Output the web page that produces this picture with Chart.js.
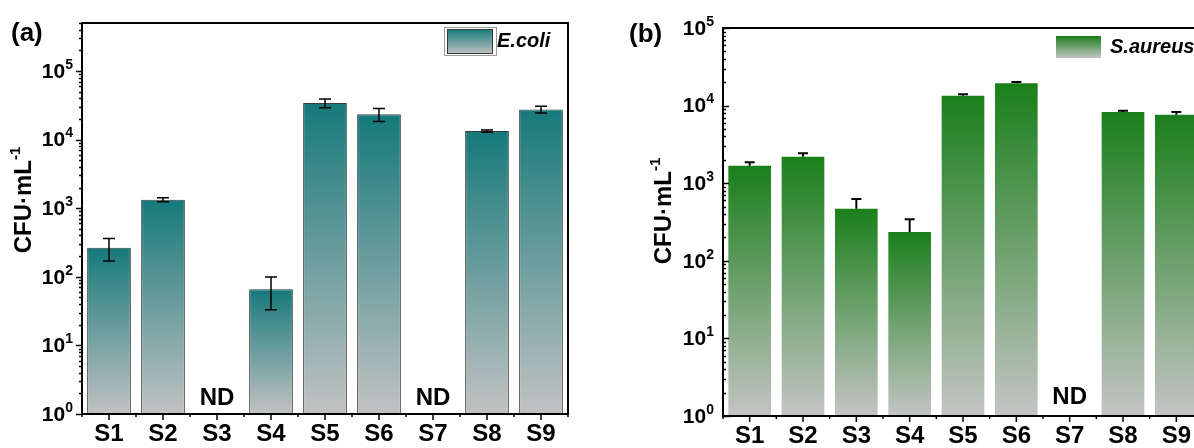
<!DOCTYPE html>
<html><head><meta charset="utf-8">
<script src="https://cdn.jsdelivr.net/npm/chart.js@4"></script>
<style>
html,body{margin:0;padding:0;background:#fff;overflow:hidden;width:1194px;height:448px;}
canvas{position:absolute;top:0;}
#ca{left:0;}
#cb{left:597px;}
</style></head><body>
<canvas id="ca" width="597" height="448"></canvas>
<canvas id="cb" width="620" height="448"></canvas>
<script>
// ---- data ----
const categories = ['S1','S2','S3','S4','S5','S6','S7','S8','S9'];
const ecoliValues = [265, 1330, null, 66, 34000, 23300, null, 13300, 27500];
const ecoliErrors = [95, 85, null, 33, 5000, 5000, null, 500, 3200];
const saureusValues = [1680, 2200, 470, 235, 13400, 19400, null, 8270, 7640];
const saureusErrors = [180, 230, 156, 108, 600, 780, null, 330, 630];
const yExponents = [0, 1, 2, 3, 4, 5];
const ndLabel = 'ND';
const yTitleMain = 'CFU·mL';
const yTitleSup = '-1';

const FONT = "'Liberation Sans', Arial, sans-serif";

function makeGradientColor(top, bottom) {
  return function(c) {
    const chart = c.chart;
    const area = chart.chartArea;
    if (!area || c.raw == null) return top;
    const y = chart.scales.y;
    const pt = y.getPixelForValue(c.raw);
    const g = chart.ctx.createLinearGradient(0, pt, 0, area.bottom);
    g.addColorStop(0, top);
    g.addColorStop(1, bottom);
    return g;
  };
}

function decorPlugin(cfg) {
  return {
    id: 'decor',
    afterDraw(chart) {
      const ctx = chart.ctx, a = chart.chartArea, x = chart.scales.x, y = chart.scales.y;
      const vals = chart.data.datasets[0].data;
      ctx.save();
      // error bars
      ctx.strokeStyle = '#000';
      ctx.lineWidth = cfg.errWidth;
      vals.forEach((v, i) => {
        const e = cfg.errors[i];
        if (v == null || e == null) return;
        const px = x.getPixelForValue(i);
        const top = y.getPixelForValue(v + e);
        const bot = cfg.twoSided ? y.getPixelForValue(Math.max(v - e, 1)) : y.getPixelForValue(v);
        ctx.beginPath();
        ctx.moveTo(px, top); ctx.lineTo(px, bot);
        ctx.moveTo(px - cfg.cap, top); ctx.lineTo(px + cfg.cap, top);
        if (cfg.twoSided) { ctx.moveTo(px - cfg.cap, bot); ctx.lineTo(px + cfg.cap, bot); }
        ctx.stroke();
      });
      // ND labels
      ctx.fillStyle = '#000';
      ctx.font = 'bold 24px ' + FONT;
      ctx.textAlign = 'center';
      ctx.textBaseline = 'middle';
      vals.forEach((v, i) => {
        if (v == null) ctx.fillText(ndLabel, x.getPixelForValue(i), cfg.ndY);
      });
      // frame
      ctx.lineWidth = 2;
      ctx.strokeStyle = '#000';
      ctx.strokeRect(a.left, a.top, a.right - a.left, a.bottom - a.top);
      // y ticks
      ctx.lineWidth = 1.5;
      const dir = cfg.yTickIn ? 1 : -1;
      y.ticks.forEach(t => {
        const lg = Math.log10(t.value);
        const isMaj = Math.abs(lg - Math.round(lg)) < 1e-9;
        const sig = t.value / Math.pow(10, Math.floor(lg + 1e-9));
        if (!isMaj && Math.abs(sig - Math.round(sig)) > 1e-6) return;
        const py = Math.round(y.getPixelForValue(t.value)) + 0.5;
        const len = isMaj ? 6 : 3;
        ctx.beginPath();
        ctx.moveTo(a.left, py); ctx.lineTo(a.left + dir * len, py);
        ctx.stroke();
      });
      // x ticks
      const step = x.getPixelForValue(1) - x.getPixelForValue(0);
      categories.forEach((c, i) => {
        const px = x.getPixelForValue(i);
        ctx.beginPath();
        ctx.moveTo(px, a.bottom); ctx.lineTo(px, a.bottom + 6);
        ctx.moveTo(px + step / 2, a.bottom); ctx.lineTo(px + step / 2, a.bottom + 3);
        if (i === 0) { ctx.moveTo(px - step / 2, a.bottom); ctx.lineTo(px - step / 2, a.bottom + 3); }
        ctx.stroke();
      });
      // y tick labels 10^n
      ctx.textAlign = 'left';
      ctx.textBaseline = 'middle';
      yExponents.forEach(e => {
        const v = Math.pow(10, e);
        if (v < y.min - 1e-9 || v > y.max + 1e-9) return;
        const py = y.getPixelForValue(v);
        ctx.font = 'bold 14px ' + FONT;
        const ws = ctx.measureText(String(e)).width;
        ctx.font = 'bold 21px ' + FONT;
        const wb = ctx.measureText('10').width;
        const right = a.left - cfg.labelGap;
        ctx.fillText('10', right - ws - wb, py + 1);
        ctx.font = 'bold 14px ' + FONT;
        ctx.fillText(String(e), right - ws, py - 6);
      });
      // y title
      ctx.save();
      ctx.translate(cfg.titleX, cfg.titleY);
      ctx.rotate(-Math.PI / 2);
      ctx.font = 'bold 24px ' + FONT;
      const w1 = ctx.measureText(yTitleMain).width;
      ctx.font = 'bold 15px ' + FONT;
      const w2 = ctx.measureText(yTitleSup).width;
      const st = -(w1 + w2) / 2;
      ctx.font = 'bold 24px ' + FONT;
      ctx.fillText(yTitleMain, st, 0);
      ctx.font = 'bold 15px ' + FONT;
      ctx.fillText(yTitleSup, st + w1, -8);
      ctx.restore();
      // panel label
      ctx.font = 'bold 26px ' + FONT;
      ctx.fillText(cfg.panel, cfg.panelX, cfg.panelY);
      // legend
      const L = cfg.legend;
      if (L.frame) {
        ctx.lineWidth = 1;
        ctx.strokeStyle = '#9a9a9a';
        ctx.strokeRect(L.frame[0] + 0.5, L.frame[1] + 0.5, L.frame[2], L.frame[3]);
      }
      const g = ctx.createLinearGradient(0, L.box[1], 0, L.box[1] + L.box[3]);
      g.addColorStop(0, cfg.topColor);
      g.addColorStop(1, cfg.bottomColor);
      ctx.fillStyle = g;
      ctx.fillRect(L.box[0], L.box[1], L.box[2], L.box[3]);
      if (L.border) {
        ctx.strokeStyle = '#3a3a3a';
        ctx.lineWidth = 1;
        ctx.strokeRect(L.box[0] + 0.5, L.box[1] + 0.5, L.box[2] - 1, L.box[3] - 1);
      }
      ctx.fillStyle = '#000';
      ctx.font = 'italic bold 20px ' + FONT;
      ctx.textBaseline = 'middle';
      ctx.fillText(L.text, L.textX, L.textY);
      ctx.restore();
    }
  };
}

function makeChart(id, values, cfg) {
  return new Chart(document.getElementById(id), {
    type: 'bar',
    data: {
      labels: categories,
      datasets: [{
        label: cfg.legend.text,
        data: values,
        backgroundColor: makeGradientColor(cfg.topColor, cfg.bottomColor),
        borderColor: cfg.barBorder || 'rgba(0,0,0,0)',
        borderWidth: cfg.barBorder ? 1 : 0,
        borderSkipped: 'start',
        barPercentage: cfg.barPct,
        categoryPercentage: 1
      }]
    },
    options: {
      responsive: false,
      animation: false,
      layout: { padding: cfg.padding },
      plugins: { legend: { display: false }, tooltip: { enabled: false } },
      scales: {
        x: {
          grid: { display: false, drawTicks: false },
          border: { display: false },
          ticks: { color: '#000', font: { family: FONT, size: 24, weight: 'bold' }, padding: cfg.xPad, autoSkip: false, maxRotation: 0 },
          afterFit(s) { s.height = cfg.xHeight; }
        },
        y: {
          type: 'logarithmic',
          min: 1,
          max: cfg.yMax,
          grid: { display: false, drawTicks: false },
          border: { display: false },
          ticks: { display: false, autoSkip: false },
          afterFit(s) { s.width = cfg.yWidth; }
        }
      }
    },
    plugins: [decorPlugin(cfg)]
  });
}

makeChart('ca', ecoliValues, {
  errors: ecoliErrors, twoSided: true, errWidth: 1.5, cap: 6,
  topColor: '#16797a', bottomColor: '#c2c2c2', barBorder: '#3c3c3c', barPct: 0.81,
  padding: { left: 0, top: 23, right: 29, bottom: 0 },
  yWidth: 82, xHeight: 34, xPad: 6, yMax: 500000,
  yTickIn: false, labelGap: 9, ndY: 398,
  titleX: 24, titleY: 200,
  panel: '(a)', panelX: 11, panelY: 34,
  legend: { frame: [444, 27, 52, 28], box: [447, 29, 46, 25], border: true, text: 'E.coli', textX: 497, textY: 41 }
});

makeChart('cb', saureusValues, {
  errors: saureusErrors, twoSided: false, errWidth: 2, cap: 5,
  topColor: '#1a7f1a', bottomColor: '#c4c4c4', barBorder: null, barPct: 0.8,
  padding: { left: 0, top: 28, right: 14, bottom: 0 },
  yWidth: 126, xHeight: 32, xPad: 6, yMax: 100000,
  yTickIn: true, labelGap: 9, ndY: 397,
  titleX: 664 - 597, titleY: 211,
  panel: '(b)', panelX: 629 - 597, panelY: 35,
  legend: { frame: null, box: [1056 - 597, 36, 45, 22], border: false, text: 'S.aureus', textX: 1110 - 597, textY: 47 }
});
</script>
</body></html>
